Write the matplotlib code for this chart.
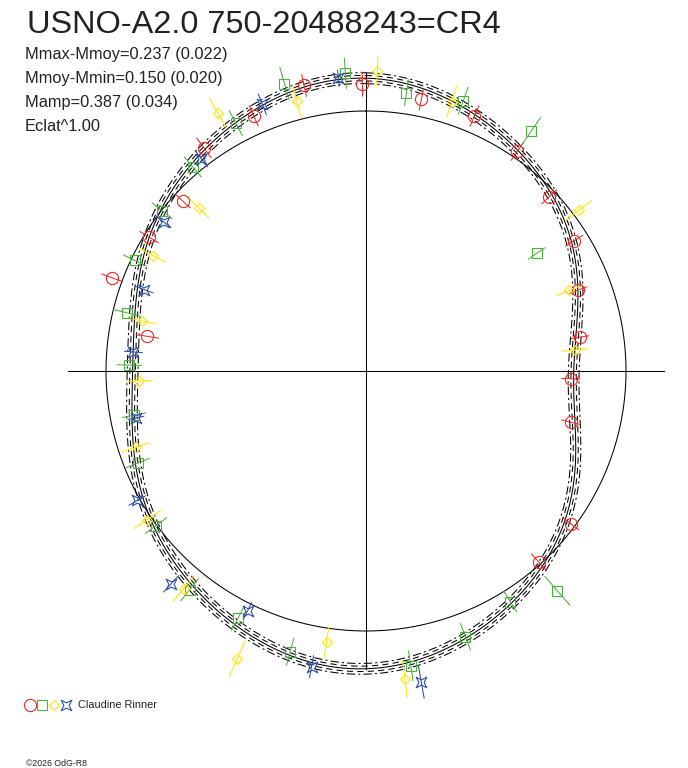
import numpy as np
import matplotlib
matplotlib.use("Agg")
import matplotlib.pyplot as plt
from matplotlib.path import Path

# ---------------- data (phase 0..1, magnitude offset from mean) ----------------
title = "USNO-A2.0 750-20488243=CR4"
info_lines = ["Mmax-Mmoy=0.237 (0.022)", "Mmoy-Mmin=0.150 (0.020)",
              "Mamp=0.387 (0.034)", "Eclat^1.00"]
observer = "Claudine Rinner"
footer = "\u00a92026 OdG-R8"

red_phase = [0.032, 0.064, 0.096, 0.129, 0.161, 0.192, 0.225, 0.256, 0.289, 0.352,
             0.383, 0.775, 0.806, 0.838, 0.869, 0.900, 0.934, 0.966, 0.998]
red_dm = [0.087, 0.086, 0.035, -0.036, -0.072, -0.165, -0.217, -0.276, -0.246, -0.023,
          -0.010, -0.193, 0.051, -0.026, -0.052, 0.080, 0.094, 0.161, 0.135]
red_err = [0.055, 0.055, 0.055, 0.050, 0.050, 0.045, 0.043, 0.045, 0.045, 0.050,
           0.055, 0.055, 0.055, 0.053, 0.048, 0.060, 0.055, 0.055, 0.060]

green_phase = [0.023, 0.055, 0.096, 0.154, 0.386, 0.411, 0.443, 0.476, 0.542, 0.576, 0.608,
               0.649, 0.689, 0.720, 0.754, 0.788, 0.821, 0.856, 0.888, 0.923, 0.956, 0.989]
green_dm = [0.106, 0.136, 0.158, -0.264, 0.157, 0.060, 0.119, 0.191, 0.153, 0.091, 0.105,
            0.004, -0.069, -0.120, -0.116, -0.069, -0.019, -0.003, 0.038, 0.101, 0.194, 0.192]
green_err = [0.065, 0.070, 0.080, 0.050, 0.095, 0.060, 0.070, 0.075, 0.070, 0.070, 0.070,
             0.065, 0.063, 0.058, 0.060, 0.070, 0.063, 0.063, 0.065, 0.070, 0.085, 0.075]

yellow_phase = [0.006, 0.049, 0.147, 0.190, 0.234, 0.480, 0.523, 0.567, 0.611, 0.655,
                0.699, 0.743, 0.785, 0.829, 0.873, 0.917, 0.960]
yellow_dm = [0.201, 0.113, 0.034, -0.206, -0.250, 0.254, 0.068, 0.276, 0.120, 0.021,
             -0.088, -0.165, -0.151, -0.089, -0.132, 0.188, 0.093]
yellow_err = [0.075, 0.080, 0.080, 0.070, 0.065, 0.090, 0.075, 0.095, 0.080, 0.078,
              0.070, 0.065, 0.070, 0.073, 0.070, 0.085, 0.080]

blue_phase = [0.472, 0.529, 0.573, 0.618, 0.668, 0.718, 0.763, 0.806, 0.851, 0.895, 0.941, 0.985]
blue_dm = [0.281, 0.203, 0.038, 0.143, 0.013, -0.126, -0.133, -0.120, -0.044, 0.044, 0.130, 0.170]
blue_err = [0.080, 0.055, 0.045, 0.055, 0.048, 0.040, 0.045, 0.045, 0.045, 0.050, 0.055, 0.040]

# fitted light curve
curve_phase = [0.000, 0.022, 0.046, 0.067, 0.094, 0.128, 0.161, 0.192, 0.225, 0.250, 0.289,
               0.319, 0.353, 0.381, 0.411, 0.444, 0.475, 0.500, 0.528, 0.542, 0.575, 0.614,
               0.631, 0.650, 0.667, 0.689, 0.719, 0.750, 0.778, 0.804, 0.839, 0.856, 0.892,
               0.922, 0.941, 0.964, 0.986]
curve_dm = [0.145, 0.150, 0.130, 0.100, 0.040, -0.035, -0.075, -0.170, -0.235, -0.255, -0.235,
            -0.155, -0.030, 0.005, 0.060, 0.120, 0.185, 0.185, 0.195, 0.170, 0.100, 0.105,
            0.040, 0.000, 0.000, -0.070, -0.110, -0.130, -0.117, -0.085, -0.025, -0.005, 0.060,
            0.105, 0.128, 0.162, 0.160]
curve_sigma = 0.0135

# ---------------- geometry ----------------
W, H = 688, 768
CX, CY = 366, 371
R0 = 260.0     # radius of the mean-magnitude circle (px)
SCALE = 200.0  # px per magnitude
AXLEN = 298.0

def to_xy(phase, dm):
    ph = np.asarray(phase, float)
    r = R0 + SCALE * np.asarray(dm, float)
    a = 2 * np.pi * ph
    return CX + r * np.sin(a), CY - r * np.cos(a)

fig = plt.figure(figsize=(W / 100, H / 100), dpi=100)
ax = fig.add_axes([0, 0, 1, 1])
ax.set_xlim(0, W)
ax.set_ylim(H, 0)
ax.axis("off")

lw = 0.75
# axes cross
ax.plot([CX - AXLEN, CX + AXLEN], [CY, CY], color="black", lw=lw)
ax.plot([CX, CX], [CY - AXLEN, CY + AXLEN], color="black", lw=lw)

# reference circle (mean magnitude)
t = np.linspace(0, 1, 721)
cx, cy = to_xy(t, np.zeros_like(t))
ax.plot(cx, cy, color="black", lw=lw)

# Fourier fit of the curve readings
def design(ph, n=6):
    ph = np.asarray(ph, float)
    cols = [np.ones_like(ph)]
    for k in range(1, n + 1):
        cols.append(np.cos(2 * np.pi * k * ph))
        cols.append(np.sin(2 * np.pi * k * ph))
    return np.column_stack(cols)

coef, *_ = np.linalg.lstsq(design(curve_phase), np.array(curve_dm), rcond=None)
fit = design(t) @ coef

x, y = to_xy(t, fit)
ax.plot(x, y, color="black", lw=lw)
for k, ls in [(1, (0, (6, 4))), (-1, (0, (6, 4))), (2, (0, (8, 3, 2, 3))), (-2, (0, (8, 3, 2, 3)))]:
    x, y = to_xy(t, fit + k * curve_sigma)
    ax.plot(x, y, color="black", lw=lw, ls=ls)

# star marker
ang = np.deg2rad(np.arange(0, 360, 45) + 45)
rad = np.array([1.0, 0.35] * 4)
verts = np.column_stack([rad * np.cos(ang), rad * np.sin(ang)])
verts = np.vstack([verts, verts[:1]])
star = Path(verts, [Path.MOVETO] + [Path.LINETO] * 7 + [Path.CLOSEPOLY])

series = [
    (red_phase, red_dm, red_err, "#f02828", "o", 8.8),
    (green_phase, green_dm, green_err, "#4cb040", "s", 6.6),
    (yellow_phase, yellow_dm, yellow_err, "#ffe600", "D", 5.6),
    (blue_phase, blue_dm, blue_err, "#2e4ea6", star, 7.6),
]

for ph, dm, err, col, mk, ms in series:
    ph = np.array(ph); dm = np.array(dm); err = np.array(err)
    x0, y0 = to_xy(ph, dm - err)
    x1, y1 = to_xy(ph, dm + err)
    xs = np.column_stack([x0, x1, np.full_like(x0, np.nan)]).ravel()
    ys = np.column_stack([y0, y1, np.full_like(y0, np.nan)]).ravel()
    ax.plot(xs, ys, color=col, lw=lw, zorder=3)
    xm, ym = to_xy(ph, dm)
    ax.plot(xm, ym, ls="none", marker=mk, ms=ms, mfc="none", mec=col, mew=0.8, zorder=4)

# texts
font = ["Liberation Sans", "DejaVu Sans"]
ax.text(27, 33, title, fontsize=23.4, family=font, color="#222222", va="baseline", ha="left")
for i, s in enumerate(info_lines):
    ax.text(25, 58.5 + 24.2 * i, s, fontsize=11.8, family=font, color="#222222",
            va="baseline", ha="left")

# legend
leg_y = 704.5
for (ph, dm, err, col, mk, ms), lx in zip(series, [29.5, 41.5, 53.5, 66]):
    ax.plot([lx], [leg_y], ls="none", marker=mk, ms=ms, mfc="none", mec=col, mew=0.8)
ax.text(78, 708, observer, fontsize=7.9, family=font, color="#222222", va="baseline", ha="left")
ax.text(26, 766, footer, fontsize=6.3, family=font, color="#222222", va="baseline", ha="left")

fig.savefig("out.png", dpi=100, facecolor="white")
